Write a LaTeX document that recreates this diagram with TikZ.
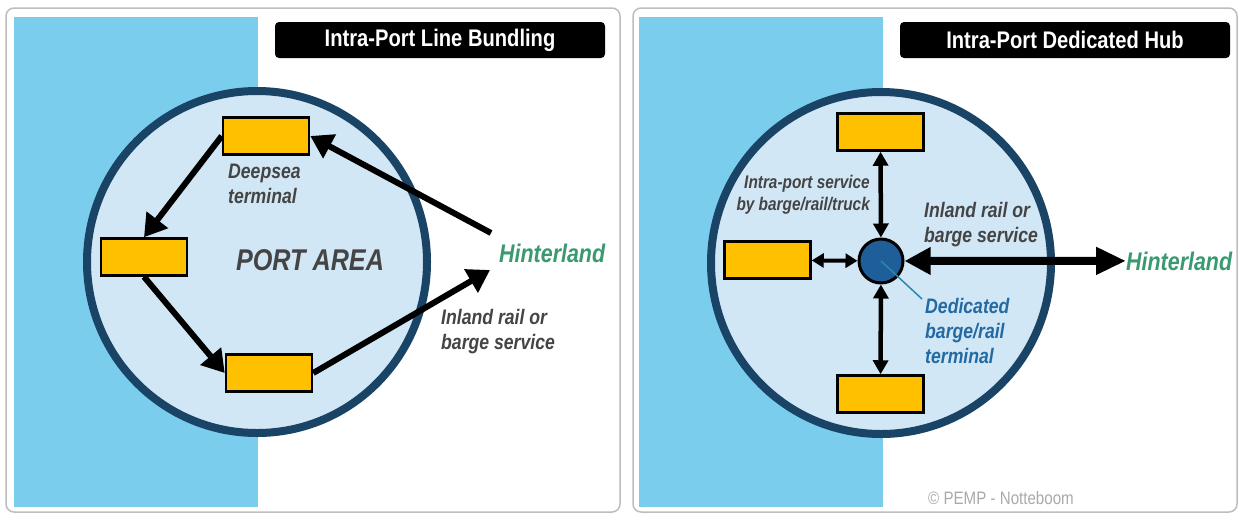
\documentclass[tikz,border=0pt]{standalone}
\usepackage{fontspec}
\setmainfont{Liberation Sans}[FakeStretch=0.84]
\usetikzlibrary{arrows.meta}

\definecolor{water}{HTML}{7BCDEE}
\definecolor{portfill}{HTML}{D2E7F5}
\definecolor{portline}{HTML}{1A4466}
\definecolor{termfill}{HTML}{FFC000}
\definecolor{hubfill}{HTML}{1F5F99}
\definecolor{landgreen}{HTML}{3A9970}
\definecolor{labgray}{HTML}{444444}
\definecolor{labblue}{HTML}{236AA2}
\definecolor{leadblue}{HTML}{2B86AE}
\definecolor{framegray}{HTML}{BDBDBD}
\definecolor{creditgray}{HTML}{AAAAAA}

\newcommand{\fsz}[2]{\fontsize{#1}{#2}\selectfont}

\tikzset{
  frame/.style={draw=framegray, line width=1.5pt, rounded corners=8pt},
  titlebox/.style={fill=black, rounded corners=4pt, minimum width=330pt, minimum height=36pt,
    text=white, font=\fsz{24}{28}\bfseries, inner sep=0pt},
  port/.style={draw=portline, fill=portfill, line width=8pt},
  terminal/.style={draw=black, fill=termfill, line width=2.5pt, minimum width=86pt, minimum height=37pt, inner sep=0pt},
  hubnode/.style={circle, draw=black, fill=hubfill, line width=3pt, minimum size=44pt, inner sep=0pt},
  lab/.style={text=labgray, font=\fsz{21}{25}\bfseries\itshape, inner sep=0pt, align=left},
  land/.style={text=landgreen, font=\fsz{25.5}{28}\bfseries\itshape, inner sep=0pt},
  flow/.style={line width=6pt, -{Triangle[length=22pt,width=26pt]}},
  link/.style={line width=4.5pt, {Triangle[length=14pt,width=15pt]}-{Triangle[length=14pt,width=15pt]}},
  shortlink/.style={line width=4pt, {Triangle[length=12pt,width=14pt]}-{Triangle[length=12pt,width=14pt]}},
  trunk/.style={line width=8pt, {Triangle[length=26pt,width=26pt]}-{Triangle[length=30pt,width=26pt]}},
  leader/.style={draw=leadblue, line width=1.5pt}
}

\begin{document}
\begin{tikzpicture}[x=1pt, y=-1pt]
\useasboundingbox (0,0) rectangle (1241,515);
\fill[white] (0,0) rectangle (1241,515);

% ---------- Left panel: line bundling ----------
\draw[frame] (6,8) rectangle (620,512);
\fill[water] (14,17) rectangle (258,507);
\node[titlebox] (title1) at (440,40) {Intra-Port Line Bundling};
\draw[port] (257,262) ellipse [x radius=170, y radius=171];

\node[terminal] (t1) at (266,136) {};
\node[terminal] (t2) at (144,257) {};
\node[terminal] (t3) at (269,373) {};

% multi-line labels are placed by the baseline of their last line
\node[lab, anchor=base west] (deep) at (228,203) {Deepsea\\terminal};
\node[text=labgray, font=\fsz{30}{32}\bfseries\itshape, inner sep=0pt, anchor=base] (area) at (310,270) {PORT AREA};
\node[land, anchor=base west] (land1) at (499,262) {Hinterland};
\node[lab, anchor=base west] (inl1) at (441,349) {Inland rail or\\barge service};

\coordinate (h1in) at (490,270);
\coordinate (h1out) at (491,233);

\draw[flow] (t1.west) -- (t2.north);
\draw[flow] (t2.south) -- (t3.west);
\draw[flow] (t3.east) -- (h1in);
\draw[flow] (h1out) -- (t1.east);

% ---------- Right panel: dedicated hub ----------
\draw[frame] (633,8) rectangle (1237,512);
\fill[water] (639,17) rectangle (883,507);
\node[titlebox] (title2) at (1065,40) {Intra-Port Dedicated Hub};
\draw[port] (881,263) ellipse [x radius=170, y radius=171];

\node[terminal] (r1) at (880.5,132) {};
\node[terminal] (r2) at (767.5,260) {};
\node[terminal] (r3) at (880.5,394) {};
\node[hubnode] (hub) at (881,261) {};

\node[lab, font=\fsz{18.3}{22}\bfseries\itshape, align=right, anchor=base east] (intra) at (870,210) {Intra-port service\\by barge/rail/truck};
\node[lab, anchor=base west] (inl2) at (924,242) {Inland rail or\\barge service};
\node[lab, text=labblue, anchor=base west] (ded) at (925,363) {Dedicated\\barge/rail\\terminal};
\node[land, anchor=base west] (land2) at (1126,270) {Hinterland};
\node[text=creditgray, font=\fsz{18}{20}, inner sep=0pt, anchor=base] (credit) at (1001,504) {© PEMP - Notteboom};

\coordinate (dedtip) at (922,299);

\draw[link] (r1) -- (hub);
\draw[link] (r3) -- (hub);
\draw[shortlink] (r2) -- (hub);
\draw[trunk] (hub) -- (land2.west);
\draw[leader] (hub.center) -- (dedtip);
\end{tikzpicture}
\end{document}
